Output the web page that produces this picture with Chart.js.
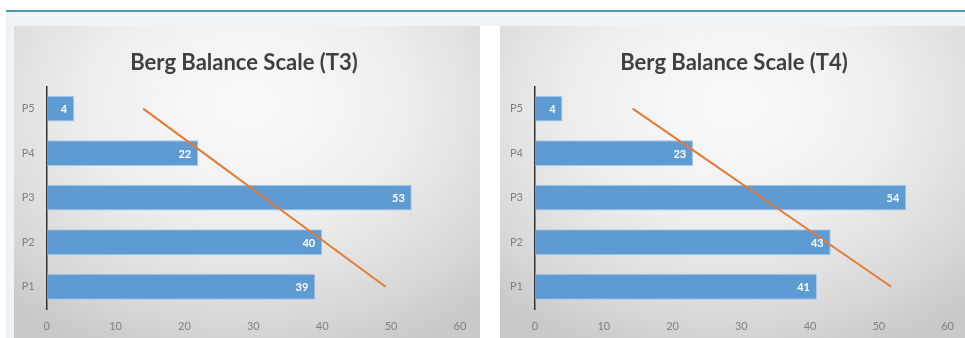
<!DOCTYPE html>
<html>
<head>
<meta charset="utf-8">
<script src="https://cdn.jsdelivr.net/npm/chart.js@4"></script>
<style>
  html,body{margin:0;padding:0;background:#ffffff;width:965px;height:338px;overflow:hidden;position:relative;}
  #topline{position:absolute;left:6px;top:10px;width:959px;height:2px;background:#4d9ca9;}
  #band{position:absolute;left:6px;top:12px;width:959px;height:326px;background:#eef4f7;}
  .panel{position:absolute;top:26px;height:312px;
    background:radial-gradient(ellipse 75% 85% at 50% 25%, #fbfbfb 0%, #eeeeee 45%, #d9d9d9 80%, #c9c9c9 100%);}
  #p1{left:14px;width:466px;}
  #p2{left:500px;width:465px;}
  #gap{position:absolute;left:480px;top:26px;width:20px;height:312px;background:#ffffff;}
  canvas{position:absolute;left:0;top:0;}
</style>
</head>
<body>
<div id="topline"></div>
<div id="band"></div>
<div id="gap"></div>
<div class="panel" id="p1"><canvas id="c1" width="466" height="312"></canvas></div>
<div class="panel" id="p2"><canvas id="c2" width="465" height="312"></canvas></div>
<script>
// Data (P1..P5, bottom to top)
const categories = ['P1', 'P2', 'P3', 'P4', 'P5'];
const t3Values = [39, 40, 53, 22, 4];
const t4Values = [41, 43, 54, 23, 4];
// Trendline values at each category
const t3Trend = [49.2, 40.4, 31.6, 22.8, 14.0];
const t4Trend = [51.8, 42.4, 33.0, 23.6, 14.2];
const xTicks = [0, 10, 20, 30, 40, 50, 60];
const titles = ['Berg Balance Scale (T3)', 'Berg Balance Scale (T4)'];

const labelPlugin = {
  id: 'barLabels',
  afterDatasetsDraw(chart) {
    const ctx = chart.ctx;
    const meta = chart.getDatasetMeta(0);
    const data = chart.data.datasets[0].data;
    ctx.save();
    ctx.fillStyle = '#ffffff';
    ctx.font = 'bold 11px Lato, "Open Sans", sans-serif';
    ctx.textAlign = 'right';
    ctx.textBaseline = 'middle';
    meta.data.forEach((el, i) => {
      ctx.fillText(String(data[i]), el.x - 7, el.y + 1);
    });
    ctx.restore();
  }
};

function titleShift(dx) {
  return {
    id: 'titleShift',
    afterLayout(chart) {
      const t = chart.titleBlock;
      if (t) { t.left += dx; t.right += dx; }
    }
  };
}

function makeChart(id, title, values, trend, yWidth, rightPad, dx) {
  new Chart(document.getElementById(id), {
    data: {
      labels: categories,
      datasets: [
        {
          type: 'bar',
          data: values,
          backgroundColor: '#5f9bd3',
          borderColor: '#a8c8e8',
          borderWidth: 1,
          barPercentage: 0.58,
          categoryPercentage: 1,
          order: 2
        },
        {
          type: 'line',
          indexAxis: 'y',
          data: trend,
          borderColor: '#e57a32',
          borderWidth: 2,
          pointRadius: 0,
          fill: false,
          tension: 0,
          order: 1
        }
      ]
    },
    options: {
      indexAxis: 'y',
      responsive: false,
      animation: false,
      events: [],
      layout: { padding: { left: 0, right: rightPad, top: 0, bottom: 0 } },
      plugins: {
        legend: { display: false },
        tooltip: { enabled: false },
        title: {
          display: true,
          text: title,
          color: '#404040',
          font: { family: 'Lato, "Open Sans", sans-serif', size: 22, weight: 'bold' },
          padding: { top: 24, bottom: 10 }
        }
      },
      scales: {
        x: {
          type: 'linear',
          min: 0, max: 60,
          afterBuildTicks(scale) { scale.ticks = xTicks.map(v => ({ value: v })); },
          grid: { display: false, drawTicks: false },
          border: { display: false },
          ticks: { color: '#808080', font: { family: 'Lato, "Open Sans", sans-serif', size: 11 }, padding: 11 },
          afterFit(scale) { scale.height = 29; }
        },
        y: {
          type: 'category',
          reverse: true,
          grid: { display: false, drawTicks: false },
          border: { display: true, color: '#333333', width: 1.5 },
          ticks: { color: '#808080', font: { family: 'Lato, "Open Sans", sans-serif', size: 11 }, padding: 12 },
          afterFit(scale) { scale.width = yWidth; }
        }
      }
    },
    plugins: [labelPlugin, titleShift(dx)]
  });
}

makeChart('c1', titles[0], t3Values, t3Trend, 32.7, 20, 7);
makeChart('c2', titles[1], t4Values, t4Trend, 35, 15, 9);
</script>
</body>
</html>
